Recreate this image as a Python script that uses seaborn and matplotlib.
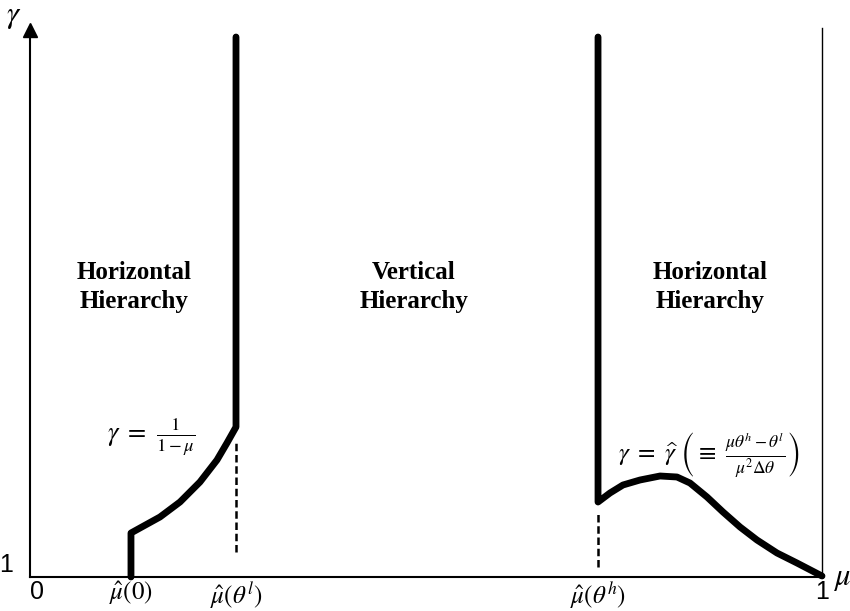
import matplotlib
matplotlib.use("Agg")
import matplotlib.pyplot as plt
import seaborn as sns

# ---- data (mu on [0,1], gamma in plot units; bottom of axis = 1) ----
mu0 = 0.1275      # mu_hat(0)
mu_thl = 0.2601   # mu_hat(theta^l)
mu_thh = 0.7172   # mu_hat(theta^h)
gamma_top = 6.40

left_mu = [mu0, mu0, 0.1389, 0.1641, 0.1894, 0.2146, 0.2361, 0.2487, mu_thl, mu_thl]
left_gamma = [1.0, 1.44, 1.49, 1.60, 1.75, 1.95, 2.17, 2.34, 2.50, gamma_top]

right_mu = [mu_thh, mu_thh, 0.7323, 0.7487, 0.7702, 0.7955, 0.8169, 0.8333, 0.8548,
            0.8750, 0.8965, 0.9179, 0.9432, 0.9684, 1.0]
right_gamma = [gamma_top, 1.75, 1.84, 1.92, 1.97, 2.01, 2.00, 1.94, 1.80,
               1.65, 1.50, 1.37, 1.24, 1.14, 1.01]

dash_left_mu = [mu_thl, mu_thl]
dash_left_gamma = [1.25, 2.37]
dash_right_mu = [mu_thh, mu_thh]
dash_right_gamma = [1.10, 1.64]

tick_pos = [0.0, mu0, mu_thl, mu_thh, 1.0]
tick_labels = ["0", r"$\hat{\mu}(0)$", r"$\hat{\mu}(\theta^{l})$", r"$\hat{\mu}(\theta^{h})$", "1"]

region_labels = ["Horizontal\nHierarchy", "Vertical\nHierarchy", "Horizontal\nHierarchy"]
region_mu = [0.131, 0.485, 0.859]

sns.set_theme(style="white")
plt.rcParams["font.family"] = ["Liberation Sans", "DejaVu Sans"]
plt.rcParams["mathtext.fontset"] = "stix"
plt.rcParams["text.color"] = "black"
plt.rcParams["xtick.color"] = "black"
plt.rcParams["ytick.color"] = "black"
plt.rcParams["axes.labelcolor"] = "black"

fig = plt.figure(figsize=(8.5, 6.11), dpi=100)
W, H = 850, 611
ax = fig.add_axes([30 / W, (H - 577) / H, (822 - 30) / W, (577 - 28) / H])
ax.set_xlim(0, 1)
ax.set_ylim(1, 1 + (577 - 28) / 100)

thick = dict(color="black", linewidth=4.9, sort=False, estimator=None, ax=ax)
sns.lineplot(x=left_mu, y=left_gamma, **thick)
sns.lineplot(x=right_mu, y=right_gamma, **thick)
for ln in ax.lines:
    ln.set_solid_capstyle("round")
    ln.set_solid_joinstyle("round")
    ln.set_clip_on(False)

dashed = dict(color="black", linewidth=1.8, sort=False, estimator=None, ax=ax)
sns.lineplot(x=dash_left_mu, y=dash_left_gamma, linestyle=(0, (3, 1.5)), **dashed)
sns.lineplot(x=dash_right_mu, y=dash_right_gamma, linestyle=(0, (3, 1.5)), **dashed)

# spines
ax.spines["top"].set_visible(False)
for s in ["left", "bottom", "right"]:
    ax.spines[s].set_color("black")
    ax.spines[s].set_linewidth(1.5)
ax.spines["right"].set_linewidth(1.0)

# arrow on y axis
ax.plot([0], [ax.get_ylim()[1] - 0.02], marker="^", color="black", markersize=10,
        clip_on=False, linestyle="none")

ax.set_xticks(tick_pos)
ax.set_xticklabels(tick_labels, fontsize=18)
for lab in ax.get_xticklabels():
    if lab.get_text() == "0":
        lab.set_horizontalalignment("left")
ax.set_xticks([mu_thl, mu_thh], minor=True)
ax.tick_params(axis="x", which="major", length=0, pad=2)
ax.tick_params(axis="x", which="minor", length=22, width=1.0, direction="inout", color="black")
ax.set_yticks([1])
ax.set_yticklabels(["1"], fontsize=18)
ax.tick_params(axis="y", length=0, pad=12)
for lab in ax.get_yticklabels():
    lab.set_verticalalignment("bottom")

ax.set_xlabel("")
ax.set_ylabel("")

# axis symbols
fig.text(14 / W, 1 - 16 / H, r"$\gamma$", fontsize=22, ha="center", va="center")
fig.text(842 / W, 1 - 578 / H, r"$\mu$", fontsize=22, ha="center", va="center")

for lbl, m in zip(region_labels, region_mu):
    ax.text(m, 3.90, lbl, ha="center", va="center", fontsize=18, fontweight="bold",
            family=["Liberation Serif"], linespacing=1.3)

ax.text(0.153, 2.40, r"$\gamma\ =\ \frac{1}{1-\mu}$", ha="center", va="center", fontsize=19)
ax.text(0.857, 2.22,
        r"$\gamma\ =\ \widehat{\gamma}\ \left(\equiv\ \frac{\mu\theta^h-\theta^l}{\mu^2\Delta\theta}\right)$",
        ha="center", va="center", fontsize=18)

fig.savefig("out.png", dpi=100, facecolor="white")
